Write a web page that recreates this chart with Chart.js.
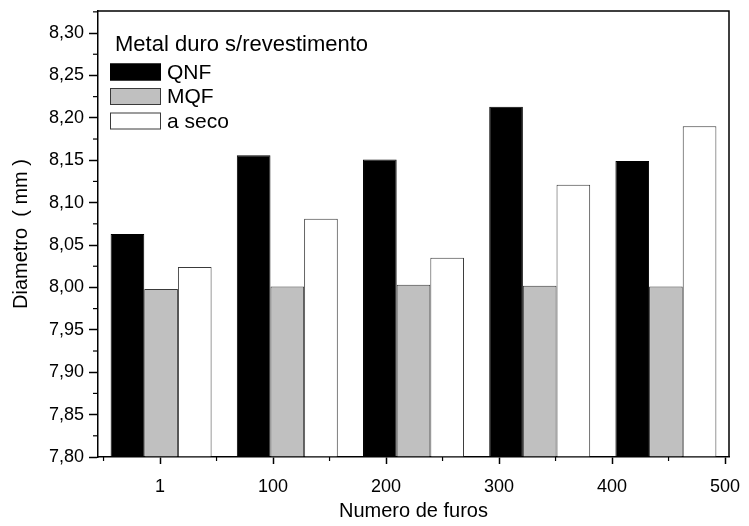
<!DOCTYPE html>
<html>
<head>
<meta charset="utf-8">
<script src="https://cdn.jsdelivr.net/npm/chart.js@4.4.0/dist/chart.umd.min.js"></script>
<style>
html, body { margin: 0; padding: 0; background: #fff; }
#wrap { width: 749px; height: 526px; }
</style>
</head>
<body>
<div id="wrap"><canvas id="chart" width="749" height="526"></canvas></div>
<script>
// dados
const categories = ['1', '100', '200', '300', '400'];
const qnf = [8.063, 8.156, 8.151, 8.213, 8.149];
const mqf = [7.998, 8.001, 8.003, 8.002, 8.001];
const aSeco = [8.024, 8.081, 8.035, 8.121, 8.190];

const yTicks = [7.80, 7.85, 7.90, 7.95, 8.00, 8.05, 8.10, 8.15, 8.20, 8.25, 8.30];
const xTicks = [0, 100, 200, 300, 400, 500];
const xTickLabels = ['1', '100', '200', '300', '400', '500'];

const legendTitle = 'Metal duro s/revestimento';
const FONT = '"Liberation Sans", Arial, sans-serif';

// sem padding extra dos rótulos, a área fica fixa pelo layout
function noScalePadding(scale) {
    scale.paddingLeft = 0;
    scale.paddingRight = 0;
    scale.paddingTop = 0;
    scale.paddingBottom = 0;
}

// moldura, ticks menores e legenda dentro da área do gráfico
const framePlugin = {
    id: 'frame',
    afterDraw(chart) {
        const ctx = chart.ctx;
        const area = chart.chartArea;
        const y = chart.scales.y;
        const x2 = chart.scales.x2;

        ctx.save();
        ctx.strokeStyle = '#000';
        ctx.lineWidth = 1.5;
        ctx.beginPath();
        ctx.moveTo(area.left, area.top);
        ctx.lineTo(area.right, area.top);
        ctx.lineTo(area.right, area.bottom);
        ctx.stroke();

        // ticks menores
        ctx.lineWidth = 1.2;
        const yStep = yTicks[1] - yTicks[0];
        yTicks.forEach(v => {
            const m = v + yStep / 2;
            if (m > y.max) return;
            const py = y.getPixelForValue(m);
            ctx.beginPath();
            ctx.moveTo(area.left - 5, py);
            ctx.lineTo(area.left, py);
            ctx.stroke();
        });
        const xStep = xTicks[1] - xTicks[0];
        xTicks.forEach(v => {
            const m = v - xStep / 2;
            if (m < x2.min) return;
            const px = x2.getPixelForValue(m);
            ctx.beginPath();
            ctx.moveTo(px, area.bottom);
            ctx.lineTo(px, area.bottom + 4);
            ctx.stroke();
        });

        // legenda
        ctx.fillStyle = '#000';
        ctx.textBaseline = 'middle';
        ctx.textAlign = 'left';
        ctx.font = '22px ' + FONT;
        ctx.fillText(legendTitle, area.left + 17, area.top + 34);
        ctx.font = '21px ' + FONT;
        chart.data.datasets.forEach((ds, i) => {
            const cy = area.top + 61 + i * 24.5;
            ctx.fillStyle = ds.backgroundColor;
            ctx.fillRect(area.left + 12, cy - 8.5, 51, 17);
            ctx.strokeStyle = ds.borderColor;
            ctx.lineWidth = 1;
            ctx.strokeRect(area.left + 12.5, cy - 8, 50, 16);
            ctx.fillStyle = '#000';
            ctx.fillText(ds.label, area.left + 69, cy + 1);
        });
        ctx.restore();
    }
};

const ctx = document.getElementById('chart').getContext('2d');

new Chart(ctx, {
    type: 'bar',
    data: {
        labels: categories,
        datasets: [{
            label: 'QNF',
            data: qnf,
            backgroundColor: '#000000',
            borderColor: '#000000',
            borderWidth: 1
        }, {
            label: 'MQF',
            data: mqf,
            backgroundColor: '#c0c0c0',
            borderColor: '#3a3a3a',
            borderWidth: 1
        }, {
            label: 'a seco',
            data: aSeco,
            backgroundColor: '#ffffff',
            borderColor: '#3a3a3a',
            borderWidth: 1
        }]
    },
    options: {
        responsive: false,
        animation: false,
        categoryPercentage: 0.8,
        barPercentage: 1.0,
        base: yTicks[0],
        layout: {
            padding: { top: 11, right: 20, left: 0, bottom: 0 }
        },
        plugins: {
            legend: { display: false },
            tooltip: { enabled: false }
        },
        scales: {
            x: {
                display: false,
                offset: true
            },
            x2: {
                type: 'linear',
                position: 'bottom',
                offset: false,
                min: -54.9,
                max: 503.5,
                afterBuildTicks: function(scale) {
                    scale.ticks = xTicks.map(v => ({ value: v }));
                },
                afterFit: function(scale) {
                    scale.height = 69;
                    noScalePadding(scale);
                },
                ticks: {
                    color: '#000',
                    padding: 12,
                    maxRotation: 0,
                    autoSkip: false,
                    font: { family: FONT, size: 18 },
                    callback: function(value) {
                        return xTickLabels[xTicks.indexOf(value)];
                    }
                },
                grid: {
                    offset: false,
                    drawOnChartArea: false,
                    tickLength: 7,
                    tickColor: '#000',
                    tickWidth: 1.5
                },
                border: { display: true, color: '#000', width: 1.5 },
                title: {
                    display: true,
                    text: 'Numero de furos',
                    color: '#000',
                    font: { family: FONT, size: 20 },
                    padding: { top: 0, bottom: 3 }
                }
            },
            y: {
                min: yTicks[0],
                max: 8.326,
                afterBuildTicks: function(scale) {
                    scale.ticks = yTicks.map(v => ({ value: v }));
                },
                afterFit: function(scale) {
                    scale.width = 98;
                    noScalePadding(scale);
                },
                ticks: {
                    color: '#000',
                    padding: 5,
                    autoSkip: false,
                    font: { family: FONT, size: 18 },
                    callback: function(value) {
                        return value.toFixed(2).replace('.', ',');
                    }
                },
                grid: {
                    drawOnChartArea: false,
                    tickLength: 9,
                    tickColor: '#000',
                    tickWidth: 1.5
                },
                border: { display: true, color: '#000', width: 1.5 },
                title: {
                    display: true,
                    text: 'Diametro  ( mm )',
                    color: '#000',
                    font: { family: FONT, size: 20 },
                    padding: { top: 9, bottom: 0 }
                }
            }
        }
    },
    plugins: [framePlugin]
});
</script>
</body>
</html>
